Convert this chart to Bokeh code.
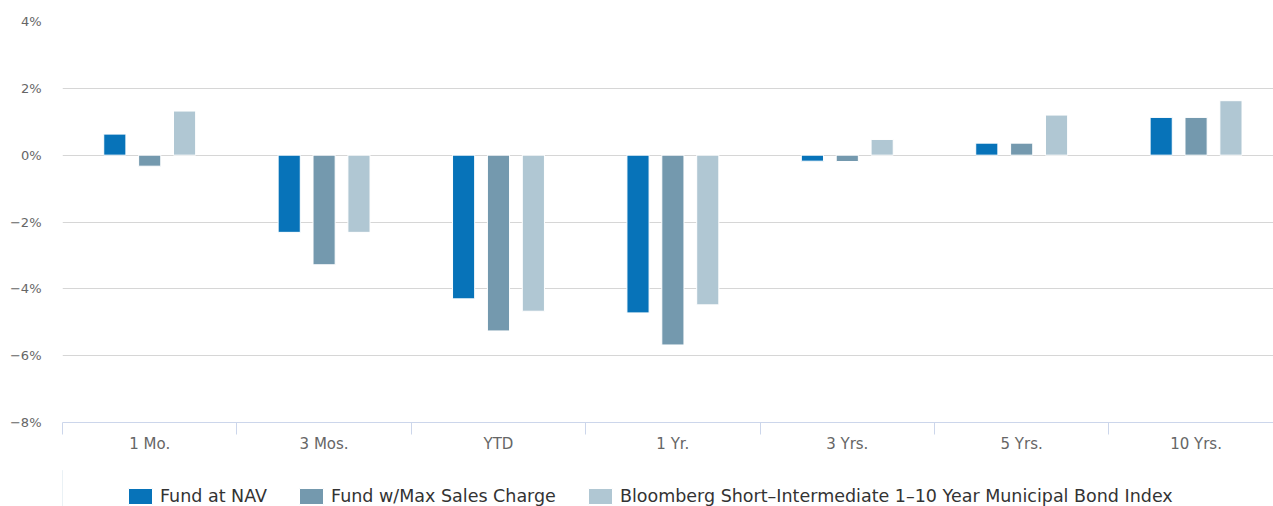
from bokeh.plotting import figure
from bokeh.models import (ColumnDataSource, FixedTicker, LinearAxis, Range1d,
                          Legend, LegendItem, Grid)
from bokeh.layouts import column
from bokeh.embed import file_html
from bokeh.resources import INLINE

# ---- data ----
categories = ["1 Mo.", "3 Mos.", "YTD", "1 Yr.", "3 Yrs.", "5 Yrs.", "10 Yrs."]
fund_nav = [0.63, -2.31, -4.30, -4.72, -0.18, 0.36, 1.13]
fund_max_sales = [-0.33, -3.28, -5.26, -5.68, -0.19, 0.36, 1.13]
bloomberg_index = [1.32, -2.31, -4.67, -4.48, 0.47, 1.20, 1.63]
series_names = ["Fund at NAV", "Fund w/Max Sales Charge",
                "Bloomberg Short\u2013Intermediate 1\u201310 Year Municipal Bond Index"]
series_colors = ["#0773b9", "#7499ae", "#b0c7d3"]
y_ticks = [-8, -6, -4, -2, 0, 2, 4]

FONT = "DejaVu Sans"

W = 1273
H_MAIN, H_LEG = 470, 36
p = figure(width=W, height=H_MAIN, output_backend="svg", toolbar_location=None,
           x_range=Range1d(0, 6.944), y_range=Range1d(-8, 4),
           x_axis_type=None, y_axis_type=None,
           min_border_left=62, min_border_right=0, min_border_top=21,
           min_border_bottom=48)
p.outline_line_color = None
p.background_fill_color = "white"
p.border_fill_color = "white"

# grid
grid = Grid(dimension=1, ticker=FixedTicker(ticks=y_ticks),
            grid_line_color="#d6d6d6", grid_line_width=1)
p.add_layout(grid)

# y axis
yax = LinearAxis(ticker=FixedTicker(ticks=y_ticks))
yax.major_label_overrides = {t: ("\u2212" if t < 0 else "") + f"{abs(t)}%" for t in y_ticks}
yax.axis_line_color = None
yax.major_tick_line_color = None
yax.minor_tick_line_color = None
yax.major_tick_out = 0
yax.major_tick_in = 0
yax.major_label_standoff = 21
yax.major_label_text_font = FONT
yax.major_label_text_font_size = "13px"
yax.major_label_text_color = "#666666"
p.add_layout(yax, "left")

# x axis (categories at centers, ticks at boundaries)
centers = [i + 0.5 for i in range(len(categories))]
bounds = [float(i) for i in range(len(categories) + 1)]
xax = LinearAxis(ticker=FixedTicker(ticks=centers, minor_ticks=bounds))
xax.major_label_overrides = {c: lab for c, lab in zip(centers, categories)}
xax.axis_line_color = "#ccd6eb"
xax.axis_line_width = 1
xax.major_tick_out = 0
xax.major_tick_in = 0
xax.major_tick_line_color = None
xax.minor_tick_out = 12
xax.minor_tick_in = 0
xax.minor_tick_line_color = "#ccd6eb"
xax.major_label_standoff = 0
xax.major_label_text_font = FONT
xax.major_label_text_font_size = "15px"
xax.major_label_text_color = "#666666"
p.add_layout(xax, "below")

# bars
offsets = [-0.2, 0.0, 0.2]
values = [fund_nav, fund_max_sales, bloomberg_index]
for name, col, vals, off in zip(series_names, series_colors, values, offsets):
    src = ColumnDataSource(dict(x=[c + off for c in centers], top=vals))
    p.vbar(x="x", top="top", bottom=0, width=0.127, source=src,
           fill_color=col, line_color="white", line_width=1)

# legend strip (frame aligned with main plot frame by the column layout)
p2 = figure(width=W, height=H_LEG, output_backend="svg", toolbar_location=None,
            x_range=Range1d(0, 1), y_range=Range1d(0, 1),
            x_axis_type=None, y_axis_type=None,
            min_border_left=0, min_border_right=0, min_border_top=0,
            min_border_bottom=0)
p2.outline_line_color = None
p2.background_fill_alpha = 0
p2.border_fill_alpha = 0
items = []
for name, col in zip(series_names, series_colors):
    r = p2.vbar(x=[-10], top=[1], bottom=0, width=0.1, fill_color=col,
                line_color="white", line_width=1)
    items.append(LegendItem(label=name, renderers=[r]))

legend = Legend(items=items, orientation="horizontal", location=(63, 0))
legend.padding = 0
legend.margin = 0
legend.spacing = 29
legend.glyph_width = 30
legend.glyph_height = 20
legend.label_standoff = 5
legend.label_text_font = FONT
legend.label_text_font_size = "17.5px"
legend.label_text_color = "#333333"
legend.border_line_color = None
legend.background_fill_alpha = 0
p2.add_layout(legend, "center")

layout = column(p, p2, spacing=0)
open("out.html", "w").write(file_html(layout, INLINE))
